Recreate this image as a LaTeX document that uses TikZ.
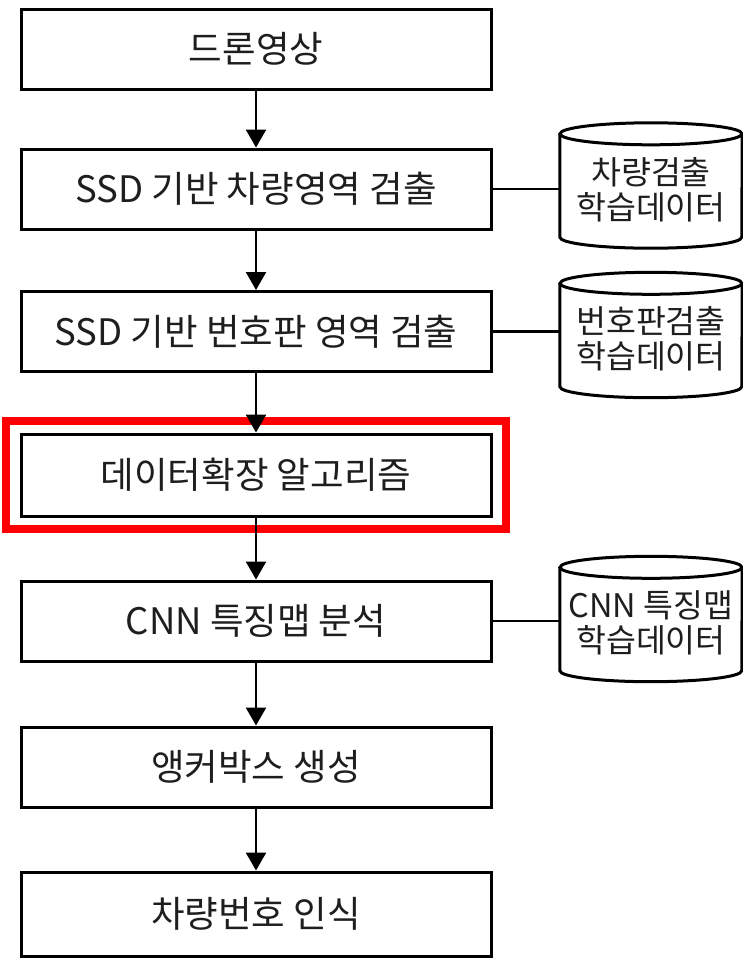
\documentclass[tikz,border=0pt]{standalone}
\usepackage{fontspec}
\setmainfont{Noto Sans CJK KR}
\usetikzlibrary{arrows.meta,calc}
\definecolor{hlred}{RGB}{255,0,0}
\definecolor{txt}{RGB}{30,30,30}
\tikzset{
  stepbox/.style={draw=black, line width=3pt, minimum width=470pt, minimum height=80pt, inner sep=0pt, text=txt, font=\fontsize{36.5}{40}\selectfont},
  dbnode/.style={minimum width=182pt, minimum height=125pt, inner sep=0pt, align=center, text=txt, font=\fontsize{32.5}{35}\selectfont},
  flow/.style={line width=2.5pt, -{Triangle[length=18pt,width=20pt]}},
  link/.style={line width=2.5pt},
  dbline/.style={line width=3pt}
}
\newcommand{\dbcyl}[1]{%
  \draw[dbline] ($(#1.north)+(0,11)$) ellipse [x radius=91pt, y radius=11pt];
  \draw[dbline] ($(#1.north west)+(0,11)$) -- ($(#1.south west)+(0,-11)$)
     arc[start angle=180, end angle=360, x radius=91pt, y radius=11pt]
     -- ($(#1.north east)+(0,11)$);
}
\begin{document}
\begin{tikzpicture}[x=1pt,y=-1pt]
\useasboundingbox[fill=white] (0,0) rectangle (743,959);
% red highlight frame
\draw[hlred, line width=8pt] (6,421) rectangle (506,529);
% step boxes
\node[stepbox] (s1) at (256,49) {드론영상};
\node[stepbox] (s2) at (256,189) {SSD 기반 차량영역 검출};
\node[stepbox] (s3) at (256,331.5) {SSD 기반 번호판 영역 검출};
\node[stepbox, minimum height=82pt] (s4) at (256,475) {데이터확장 알고리즘};
\node[stepbox] (s5) at (256,621) {CNN 특징맵 분석};
\node[stepbox] (s6) at (256,767) {앵커박스 생성};
\node[stepbox, minimum height=84pt] (s7) at (256,914) {차량번호 인식};
% databases
\node[dbnode] (d1) at (651,185.5) {};
\node[dbnode] (d2) at (651,335) {};
\node[dbnode] (d3) at (651,619) {};
\dbcyl{d1}
\dbcyl{d2}
\dbcyl{d3}
\node[dbnode, minimum width=0pt, minimum height=0pt] (t1) at ($(d1.center)+(0,4)$) {차량검출\\학습데이터};
\node[dbnode, minimum width=0pt, minimum height=0pt] (t2) at ($(d2.center)+(0,4)$) {번호판검출\\학습데이터};
\node[dbnode, minimum width=0pt, minimum height=0pt] (t3) at ($(d3.center)+(0,4)$) {CNN 특징맵\\학습데이터};
% flow arrows
\draw[flow] (s1) -- (s2);
\draw[flow] (s2) -- (s3);
\draw[flow] (s3) -- (s4);
\draw[flow] (s4) -- (s5);
\draw[flow] (s5) -- (s6);
\draw[flow] (s6) -- (s7);
% database links
\draw[link] (s2.east) -- (d1.west |- s2.east);
\draw[link] (s3.east) -- (d2.west |- s3.east);
\draw[link] (s5.east) -- (d3.west |- s5.east);
\end{tikzpicture}
\end{document}
